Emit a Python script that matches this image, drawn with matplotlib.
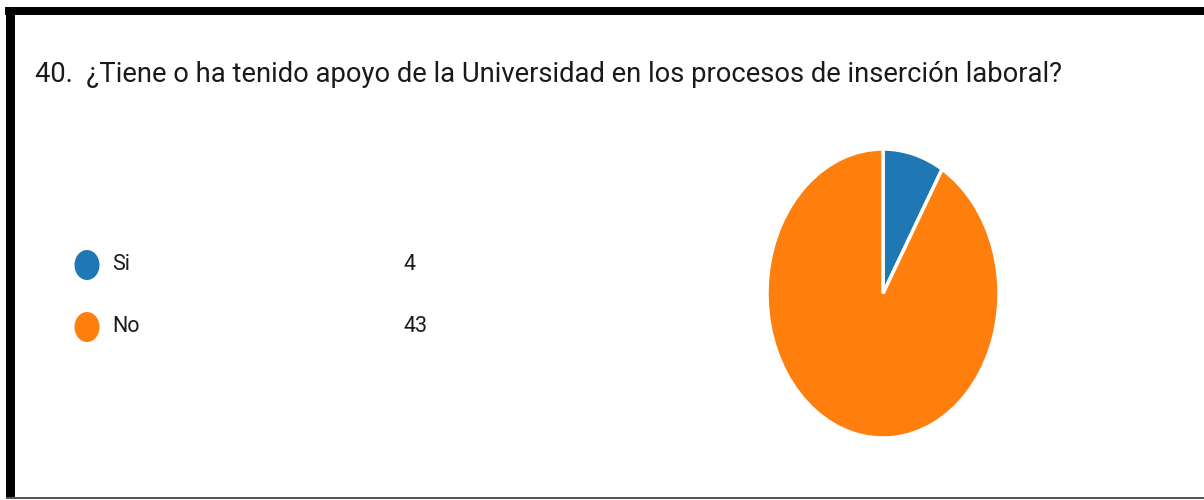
import matplotlib.pyplot as plt
from matplotlib.patches import Ellipse, Rectangle

# survey answers
question = "40.  ¿Tiene o ha tenido apoyo de la Universidad en los procesos de inserción laboral?"
answers = ["Si", "No"]
counts = [4, 43]
colors = ["#1f77b4", "#ff7f0e"]

W, H = 1204, 500
fig = plt.figure(figsize=(W / 100, H / 100), dpi=100)
fig.patch.set_facecolor("white")

font = ["Roboto", "DejaVu Sans"]

# full-figure canvas in pixel units for frame, title and legend
canvas = fig.add_axes([0, 0, 1, 1])
canvas.set_xlim(0, W)
canvas.set_ylim(H, 0)
canvas.axis("off")

# frame: thick top and left edges, thin grey bottom
canvas.add_patch(Rectangle((5, 7), W - 5, 8, color="black", lw=0))
canvas.add_patch(Rectangle((6, 7), 9, 491, color="black", lw=0))
canvas.add_patch(Rectangle((6, 497), W - 6, 2, color="#555555", lw=0))

canvas.text(35, 74, question, fontsize=19.7, family=font, color="#1a1a1a",
            va="center", ha="left")

# legend rows
for i, (name, n, c) in enumerate(zip(answers, counts, colors)):
    y = 265 + i * 62
    canvas.add_patch(Ellipse((87, y), 25, 30, color=c, lw=0))
    canvas.text(112, y, name, fontsize=15.5, family=font, color="#1a1a1a",
                va="center", ha="left")
    canvas.text(404, y, str(n), fontsize=15.5, family=font, color="#1a1a1a",
                va="center", ha="left")

# pie, stretched vertically
ax = fig.add_axes([767 / W, 1 - 438 / H, 232 / W, 289 / H])
ax.pie(counts, colors=colors, startangle=90, counterclock=False,
       wedgeprops=dict(edgecolor="white", linewidth=2.5))
ax.set_aspect("auto")
ax.set_xlim(-1.0, 1.0)
ax.set_ylim(-1.0, 1.0)
ax.axis("off")

fig.savefig("out.png", dpi=100)
